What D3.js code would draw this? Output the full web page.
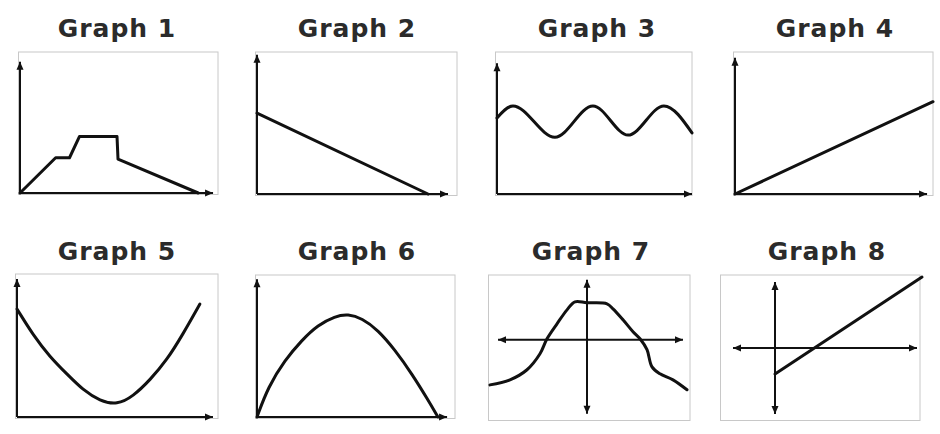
<!DOCTYPE html>
<html>
<head>
<meta charset="utf-8">
<script src="https://cdn.jsdelivr.net/npm/d3@7"></script>
<style>
  body { margin: 0; background: #fff; }
  .frame { fill: none; stroke: #c8c8c8; stroke-width: 1; }
  .gaxis { stroke: #111; stroke-width: 2; fill: none; }
  .gline { stroke: #111; stroke-width: 3; fill: none; stroke-linejoin: round; stroke-linecap: round; }
  .gtitle { font-family: "DejaVu Sans", sans-serif; font-weight: bold; font-size: 25px; fill: #2b2b2b; letter-spacing: 1px; }
</style>
</head>
<body>
<script>
'use strict';

// chart titles
const titles = ["Graph 1", "Graph 2", "Graph 3", "Graph 4",
                "Graph 5", "Graph 6", "Graph 7", "Graph 8"];

// values, [x, y] in each graph's own units
const graph1 = [[0, 0], [1.8, 2.5], [2.5, 2.5], [3.0, 4.0], [4.9, 4.0], [4.95, 2.4], [9.0, 0]];
const graph2 = [[0, 5.7], [8.55, 0]];
const graph3 = [[0, 5.35], [0.82, 6.2], [2.97, 4.0], [4.92, 6.2], [6.72, 4.15], [8.56, 6.2], [10, 4.3]];
const graph4 = [[0, 0], [10, 6.5]];
const graph5 = [[0, 7.55], [0.8, 5.73], [1.64, 4.2], [2.49, 3.0], [3.28, 1.89], [4.13, 1.12],
                [4.98, 0.85], [5.77, 1.44], [6.62, 2.59], [7.46, 3.99], [8.26, 5.8], [9.1, 7.9]];
const graph6 = [[0, 0], [0.56, 2.11], [1.41, 4.01], [2.27, 5.42], [3.08, 6.48], [3.94, 7.1],
                [4.6, 7.25], [5.3, 6.95], [6.11, 6.13], [6.97, 4.72], [7.83, 3.03], [8.64, 1.2], [9.14, 0]];
const graph7 = [[-4.85, -3.13], [-3.85, -2.78], [-3.0, -2.08], [-2.35, -0.97], [-2.0, 0.07],
                [-1.5, 1.11], [-1.0, 2.08], [-0.6, 2.64], [0, 2.57], [1.0, 2.5], [1.3, 2.15],
                [1.8, 1.39], [2.3, 0.56], [2.65, 0.07], [3.0, -0.69], [3.25, -1.88],
                [3.65, -2.36], [4.3, -2.78], [5.0, -3.47]];
const graph8 = [[0, -1.81], [7.35, 4.93]];

const series = [graph1, graph2, graph3, graph4, graph5, graph6, graph7, graph8];
const curves = [d3.curveLinear, d3.curveLinear, d3.curveMonotoneX, d3.curveLinear,
                d3.curveBasis, d3.curveBasis, d3.curveCatmullRom, d3.curveLinear];

// layout of each small panel (pixel ranges, domains, axis extents in data units)
const panels = [
  {tx: 117, ty: 37,  xr: [20, 218],  yr: [193, 52],  xd: [0, 10], yd: [0, 10], xa: [0, 9.75], ya: [0, 9.3],  both: false},
  {tx: 357, ty: 37,  xr: [257, 457], yr: [194, 52],  xd: [0, 10], yd: [0, 10], xa: [0, 9.55], ya: [0, 9.8],  both: false},
  {tx: 597, ty: 37,  xr: [497, 692], yr: [194, 52],  xd: [0, 10], yd: [0, 10], xa: [0, 10],   ya: [0, 9.2],  both: false},
  {tx: 835, ty: 37,  xr: [735, 933], yr: [194, 52],  xd: [0, 10], yd: [0, 10], xa: [0, 9.7],  ya: [0, 9.6],  both: false},
  {tx: 117, ty: 260, xr: [17, 218],  yr: [417, 274], xd: [0, 10], yd: [0, 10], xa: [0, 9.75], ya: [0, 9.65], both: false},
  {tx: 357, ty: 260, xr: [257, 455], yr: [417, 275], xd: [0, 10], yd: [0, 10], xa: [0, 9.6],  ya: [0, 9.7],  both: false},
  {tx: 591, ty: 260, xr: [490, 690], yr: [419, 275], xd: [-4.85, 5.15], yd: [-5.5, 4.5],  xa: [-4.45, 4.8], ya: [-5.14, 4.17], both: true},
  {tx: 827, ty: 260, xr: [722, 920], yr: [419, 275], xd: [-2.65, 7.25], yd: [-4.93, 5.07], xa: [-2.1, 7.1],  ya: [-4.58, 4.58], both: true}
];

const svg = d3.select("body").append("svg")
    .attr("width", 940)
    .attr("height", 434);

svg.append("defs").append("marker")
    .attr("id", "arrow")
    .attr("viewBox", "-1 -4 10 8")
    .attr("refX", 8)
    .attr("refY", 0)
    .attr("markerUnits", "userSpaceOnUse")
    .attr("markerWidth", 10)
    .attr("markerHeight", 8)
    .attr("orient", "auto-start-reverse")
  .append("path")
    .attr("d", "M0,-3.5L8,0L0,3.5Z")
    .attr("fill", "#111");

panels.forEach((p, i) => {
  const g = svg.append("g");
  const x = d3.scaleLinear(p.xd, p.xr),
        y = d3.scaleLinear(p.yd, p.yr);

  g.append("text")
    .attr("class", "gtitle")
    .attr("x", p.tx)
    .attr("y", p.ty)
    .attr("text-anchor", "middle")
    .text(titles[i]);

  // light frame round the plot
  g.append("rect")
    .attr("class", "frame")
    .attr("x", p.xr[0] - 1.5)
    .attr("y", p.yr[1])
    .attr("width", p.xr[1] - p.xr[0] + 1.5)
    .attr("height", p.yr[0] - p.yr[1] + 1.5);

  // axes, crossing at the origin
  const xl = g.append("line")
    .attr("class", "gaxis")
    .attr("x1", x(p.xa[0])).attr("x2", x(p.xa[1]))
    .attr("y1", y(0)).attr("y2", y(0))
    .attr("marker-end", "url(#arrow)");
  const yl = g.append("line")
    .attr("class", "gaxis")
    .attr("x1", x(0)).attr("x2", x(0))
    .attr("y1", y(p.ya[0])).attr("y2", y(p.ya[1]))
    .attr("marker-end", "url(#arrow)");
  if (p.both) {
    xl.attr("marker-start", "url(#arrow)");
    yl.attr("marker-start", "url(#arrow)");
  }

  const line = d3.line()
    .x(d => x(d[0]))
    .y(d => y(d[1]))
    .curve(curves[i]);

  g.append("path")
    .attr("class", "gline")
    .attr("d", line(series[i]));
});
</script>
</body>
</html>
